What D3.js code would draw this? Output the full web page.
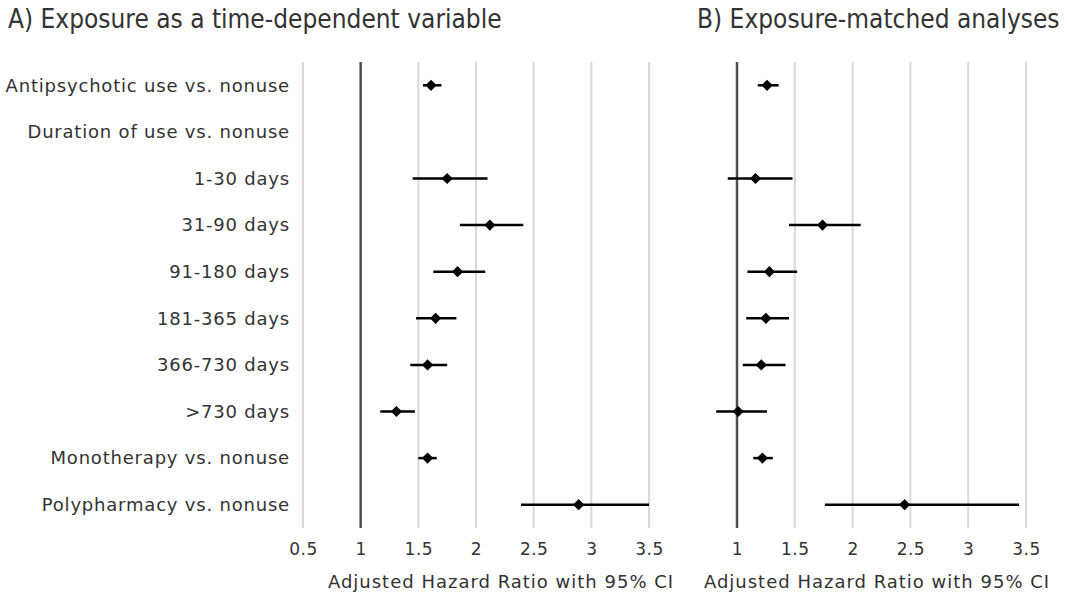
<!DOCTYPE html>
<html>
<head>
<meta charset="utf-8">
<script src="https://cdn.jsdelivr.net/npm/d3@7"></script>
<style>
  body { margin: 0; background: #fff; }
  svg text { font-family: "DejaVu Sans", Verdana, sans-serif; fill: #333; }
  .title { font-family: "DejaVu Sans Condensed", "DejaVu Sans", sans-serif; }
</style>
</head>
<body>
<div id="chart"></div>
<script>
// row labels, top to bottom
var categories = [
    "Antipsychotic use vs. nonuse",
    "Duration of use vs. nonuse",
    "1-30 days",
    "31-90 days",
    "91-180 days",
    "181-365 days",
    "366-730 days",
    ">730 days",
    "Monotherapy vs. nonuse",
    "Polypharmacy vs. nonuse"
];

// A) time-dependent: hazard ratio, lower CI, upper CI (null = header row)
var hrA    = [1.61, null, 1.75, 2.12, 1.84, 1.65, 1.58, 1.31, 1.58, 2.89];
var lowerA = [1.54, null, 1.45, 1.86, 1.63, 1.48, 1.43, 1.17, 1.50, 2.39];
var upperA = [1.70, null, 2.10, 2.41, 2.08, 1.83, 1.75, 1.47, 1.66, 3.50];

// B) exposure-matched
var hrB    = [1.26, null, 1.16, 1.74, 1.28, 1.25, 1.21, 1.01, 1.22, 2.45];
var lowerB = [1.18, null, 0.92, 1.45, 1.09, 1.08, 1.05, 0.82, 1.14, 1.76];
var upperB = [1.36, null, 1.48, 2.07, 1.52, 1.45, 1.42, 1.26, 1.31, 3.44];

var ticksA = [0.5, 1, 1.5, 2, 2.5, 3, 3.5];
var ticksB = [1, 1.5, 2, 2.5, 3, 3.5];

var width = 1067, height = 600;
var plotTop = 62, plotBottom = 528;

var svg = d3.select("#chart").append("svg")
    .attr("width", width)
    .attr("height", height);

var y = d3.scaleBand()
    .domain(categories)
    .range([plotTop, plotBottom]);

// row labels
svg.append("g").selectAll("text")
    .data(categories)
    .enter().append("text")
    .attr("x", 290)
    .attr("y", function(d) { return y(d) + y.bandwidth() / 2; })
    .attr("dy", "0.35em")
    .attr("text-anchor", "end")
    .style("font-size", "18px")
    .style("letter-spacing", "0.8px")
    .text(function(d) { return d; });

function drawPanel(opt) {
    var x = d3.scaleLinear().domain(opt.domain).range(opt.range);

    var rows = categories.map(function(c, i) {
        return {cat: c, hr: opt.hr[i], lo: opt.lo[i], hi: opt.hi[i]};
    }).filter(function(d) { return d.hr !== null; });

    var g = svg.append("g");

    // gridlines
    g.selectAll(".grid")
        .data(opt.ticks.filter(function(t) { return t !== 1; }))
        .enter().append("line")
        .attr("x1", function(d) { return x(d); })
        .attr("x2", function(d) { return x(d); })
        .attr("y1", plotTop)
        .attr("y2", plotBottom)
        .attr("stroke", "#d9d9d9")
        .attr("stroke-width", 2);

    // reference line at 1
    g.append("line")
        .attr("x1", x(1)).attr("x2", x(1))
        .attr("y1", plotTop).attr("y2", plotBottom)
        .attr("stroke", "#4d4d4d")
        .attr("stroke-width", 2.5);

    // tick labels
    var xAxis = d3.axisBottom(x)
        .tickValues(opt.ticks)
        .tickSize(0)
        .tickPadding(0)
        .tickFormat(d3.format(""));

    var ax = g.append("g")
        .attr("transform", "translate(0," + 543 + ")")
        .call(xAxis);
    ax.select(".domain").remove();
    ax.selectAll("text")
        .style("font-size", "17px")
        .style("letter-spacing", "0.5px")
        .attr("fill", "#333")
        .style("font-family", "'DejaVu Sans', Verdana, sans-serif");

    // axis title
    g.append("text")
        .attr("x", opt.titleX)
        .attr("y", 588)
        .attr("text-anchor", "middle")
        .style("font-size", "18px")
        .style("letter-spacing", "1px")
        .text("Adjusted Hazard Ratio with 95% CI");

    // confidence intervals
    g.selectAll(".ci")
        .data(rows)
        .enter().append("line")
        .attr("x1", function(d) { return x(d.lo); })
        .attr("x2", function(d) { return x(d.hi); })
        .attr("y1", function(d) { return y(d.cat) + y.bandwidth() / 2; })
        .attr("y2", function(d) { return y(d.cat) + y.bandwidth() / 2; })
        .attr("stroke", "#000")
        .attr("stroke-width", 2.5);

    // point estimates as diamonds
    g.selectAll(".pt")
        .data(rows)
        .enter().append("path")
        .attr("d", d3.symbol().type(d3.symbolDiamond2).size(80))
        .attr("transform", function(d) {
            return "translate(" + x(d.hr) + "," + (y(d.cat) + y.bandwidth() / 2) + ")";
        })
        .attr("fill", "#000");

    // panel title
    svg.append("text")
        .attr("class", "title")
        .attr("x", opt.headX)
        .attr("y", 28)
        .style("font-size", "26px")
        .text(opt.title);
}

drawPanel({
    title: "A) Exposure as a time-dependent variable",
    headX: 8,
    domain: [0.5, 3.5], range: [303, 649],
    ticks: ticksA,
    hr: hrA, lo: lowerA, hi: upperA,
    titleX: 501
});

drawPanel({
    title: "B) Exposure-matched analyses",
    headX: 697,
    domain: [1, 3.5], range: [737, 1026],
    ticks: ticksB,
    hr: hrB, lo: lowerB, hi: upperB,
    titleX: 877
});
</script>
</body>
</html>
